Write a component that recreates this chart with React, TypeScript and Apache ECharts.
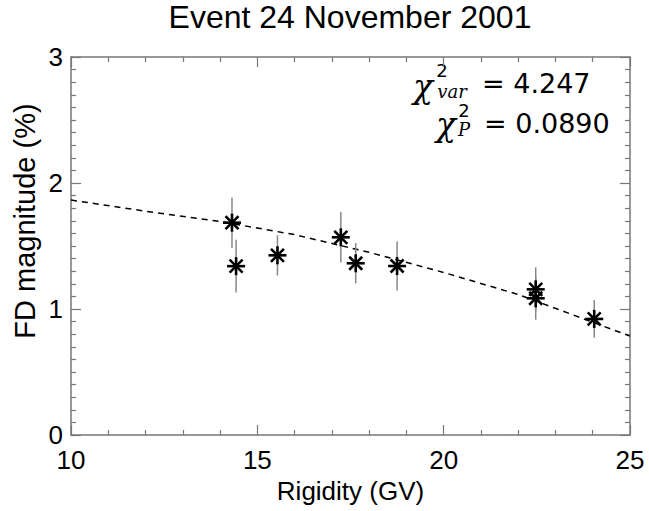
import React, { useEffect, useRef } from "react";
import * as echarts from "echarts";

// Measured data (rigidity in GV, FD magnitude in %, error in %)
const rigidity = [14.32, 14.43, 15.54, 17.24, 17.64, 18.75, 22.47, 22.47, 24.04];
const magnitude = [1.685, 1.34, 1.426, 1.569, 1.363, 1.341, 1.156, 1.085, 0.921];
const errors = [0.2, 0.21, 0.16, 0.2, 0.16, 0.195, 0.175, 0.17, 0.15];

// Fitted curve
const fitRigidity = [10, 12, 14, 16, 18, 20, 22, 24, 25];
const fitMagnitude = [1.865, 1.776, 1.695, 1.59, 1.45, 1.29, 1.115, 0.895, 0.785];

const xTicks = { min: 10, max: 25, interval: 5 };
const yTicks = { min: 0, max: 3, interval: 1 };

const titleText = "Event 24 November 2001";
const xName = "Rigidity (GV)";
const yName = "FD magnitude (%)";
const chiVar = "= 4.247";
const chiP = "= 0.0890";

const SANS = '"Liberation Sans", Arial, Helvetica, sans-serif';
const AX = "#777";

export default function App() {
  const ref = useRef<HTMLDivElement>(null);
  useEffect(() => {
    if (!ref.current) return;
    const chart = echarts.init(ref.current, null, { renderer: "svg" });
    const points = rigidity.map((r, i) => [r, magnitude[i], errors[i]]);
    const fit = fitRigidity.map((r, i) => [r, fitMagnitude[i]]);

    const tickStyle = { color: AX, width: 1.2 };
    const axisCommon = (extra: any) => ({
      type: "value",
      axisLine: { show: true, onZero: false, lineStyle: { color: AX, width: 1.5 } },
      axisTick: { show: true, inside: true, length: 10, lineStyle: tickStyle },
      splitLine: { show: false },
      ...extra,
    });

    const small = (text: string, x: number, y: number, italic: boolean) => ({
      type: "text",
      style: {
        text,
        x,
        y,
        align: "center",
        verticalAlign: "middle",
        font: italic ? 'italic 18px "DejaVu Serif"' : '18px "DejaVu Sans"',
        fill: "#000",
      },
    });

    chart.setOption({
      animation: false,
      grid: { left: 71, right: 19, top: 57, bottom: 76 },
      xAxis: [
        axisCommon({
          position: "bottom",
          ...xTicks,
          minorTick: { show: true, splitNumber: 5, length: 5, lineStyle: tickStyle },
          axisLabel: { fontSize: 26, color: "#000", margin: 12, fontFamily: SANS },
          name: xName,
          nameLocation: "middle",
          nameGap: 42,
          nameTextStyle: { fontSize: 26, color: "#000", fontFamily: SANS },
        }),
        axisCommon({
          position: "top",
          ...xTicks,
          minorTick: { show: true, splitNumber: 5, length: 5, lineStyle: tickStyle },
          axisLabel: { show: false },
        }),
      ],
      yAxis: [
        axisCommon({
          position: "left",
          ...yTicks,
          minorTick: { show: true, splitNumber: 10, length: 5, lineStyle: tickStyle },
          axisLabel: { fontSize: 26, color: "#000", margin: 8, fontFamily: SANS },
        }),
        axisCommon({
          position: "right",
          ...yTicks,
          minorTick: { show: true, splitNumber: 10, length: 5, lineStyle: tickStyle },
          axisLabel: { show: false },
        }),
      ],
      series: [
        {
          type: "line",
          data: fit,
          xAxisIndex: 0,
          yAxisIndex: 0,
          smooth: false,
          symbol: "none",
          lineStyle: { color: "#000", width: 1.5, type: [6, 5] },
          z: 2,
        },
        {
          type: "custom",
          xAxisIndex: 0,
          yAxisIndex: 0,
          data: points,
          encode: { x: 0, y: 1 },
          renderItem: (params: any, api: any) => {
            const x = api.value(0);
            const y = api.value(1);
            const e = api.value(2);
            const top = api.coord([x, y + e]);
            const bot = api.coord([x, y - e]);
            return {
              type: "line",
              shape: { x1: top[0], y1: top[1], x2: bot[0], y2: bot[1] },
              style: { stroke: "#888", lineWidth: 1.5 },
            };
          },
          z: 3,
        },
        {
          type: "custom",
          xAxisIndex: 0,
          yAxisIndex: 0,
          data: points,
          encode: { x: 0, y: 1 },
          renderItem: (params: any, api: any) => {
            const c = api.coord([api.value(0), api.value(1)]);
            const s = 9;
            const d = 6.5;
            const st = { stroke: "#000", lineWidth: 2.6 };
            const mk = (x1: number, y1: number, x2: number, y2: number) => ({
              type: "line",
              shape: { x1: c[0] + x1, y1: c[1] + y1, x2: c[0] + x2, y2: c[1] + y2 },
              style: st,
            });
            return {
              type: "group",
              children: [mk(-s, 0, s, 0), mk(0, -s, 0, s), mk(-d, -d, d, d), mk(-d, d, d, -d)],
            };
          },
          z: 4,
        },
      ],
      graphic: [
        {
          type: "text",
          style: { text: titleText, x: 350, y: 1, align: "center", verticalAlign: "top", font: `32px ${SANS}`, fill: "#000" },
        },
        {
          type: "text",
          x: 25,
          y: 221,
          rotation: Math.PI / 2,
          style: { text: yName, x: 0, y: 0, align: "center", verticalAlign: "middle", font: `29px ${SANS}`, fill: "#000" },
        },
        // line 1
        { type: "text", style: { text: "χ", x: 423, y: 86, align: "center", verticalAlign: "middle", font: 'italic 33px "DejaVu Serif"', fill: "#000" } },
        small("2", 442, 70, false),
        small("var", 452, 91.5, true),
        { type: "text", style: { text: chiVar, x: 482, y: 83.5, align: "left", verticalAlign: "middle", font: '27px "DejaVu Sans"', fill: "#000" } },
        // line 2
        { type: "text", style: { text: "χ", x: 446, y: 124, align: "center", verticalAlign: "middle", font: 'italic 33px "DejaVu Serif"', fill: "#000" } },
        small("2", 464, 110, false),
        small("P", 464, 129.5, true),
        { type: "text", style: { text: chiP, x: 484, y: 123, align: "left", verticalAlign: "middle", font: '27px "DejaVu Sans"', fill: "#000" } },
      ],
    });
    return () => chart.dispose();
  }, []);
  return (
    <div
      ref={ref}
      style={{ position: "fixed", left: 0, top: 0, width: 649, height: 511, background: "#fff" }}
    />
  );
}
